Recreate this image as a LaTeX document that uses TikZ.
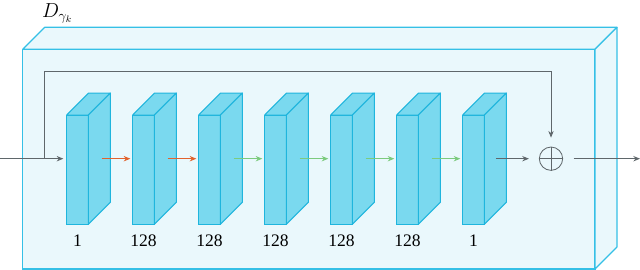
\documentclass[tikz,border=0pt]{standalone}
\usepackage{fontspec}
\setmainfont{Liberation Serif}
\usetikzlibrary{arrows.meta,positioning,calc}

\definecolor{framefill}{HTML}{EAF8FC}
\definecolor{frameline}{HTML}{35C0E6}
\definecolor{layerfill}{HTML}{7AD9EF}
\definecolor{layerline}{HTML}{1FB5DD}
\definecolor{flowgray}{HTML}{5F676B}
\definecolor{flowred}{HTML}{E2632D}
\definecolor{flowgreen}{HTML}{7CCB7E}

\begin{document}
\begin{tikzpicture}[
  x=0.3mm, y=-0.3mm,
  frame/.style={
    draw=frameline,
    fill=framefill,
    line width=1pt,
    inner sep=0pt,
    outer sep=0pt,
    minimum width=171.69mm,
    minimum height=65.91mm
  },
  frameface/.style={
    draw=frameline,
    fill=framefill,
    line width=1pt,
    line join=round
  },
  layer/.style={
    draw=layerline,
    fill=layerfill,
    line width=0.9pt,
    inner sep=0pt,
    outer sep=0pt,
    minimum width=6.48mm,
    minimum height=32.8mm
  },
  layerface/.style={
    draw=layerline,
    fill=layerfill,
    line width=0.9pt,
    line join=round
  },
  grayarrow/.style={
    -{Stealth[length=2mm,width=1.6mm]},
    draw=flowgray,
    line width=1pt
  },
  redarrow/.style={
    -{Stealth[length=2mm,width=1.6mm]},
    draw=flowred,
    line width=1.1pt
  },
  greenarrow/.style={
    -{Stealth[length=2mm,width=1.6mm]},
    draw=flowgreen,
    line width=1.1pt
  },
  sumnode/.style={
    circle,
    draw=flowgray,
    line width=0.7pt,
    minimum size=7mm,
    inner sep=0pt
  },
  numlabel/.style={
    font=\fontsize{15}{18}\selectfont,
    inner sep=0pt
  }
]
\useasboundingbox (0,0) rectangle (640,270);

% Outer block
\node[frame] (frame) at (308.85,159.15) {};
\filldraw[frameface] (frame.north west) -- ++(22,-22) -- ++(572.3,0)
  -- (frame.north east) -- cycle;
\filldraw[frameface] (frame.north east) -- ++(22,-22) -- ++(0,219.7)
  -- (frame.south east) -- cycle;

\node[anchor=base west, inner sep=0pt, font=\fontsize{17}{20}\selectfont]
  (title) at (42,17.3) {$D_{\gamma_k}$};

% Layers
\foreach \i/\ch in {1/1,2/128,3/128,4/128,5/128,6/128,7/1} {
  \node[layer] (b\i) at ({77.5+66*(\i-1)},169.7) {};
  \filldraw[layerface] (b\i.north west) -- ++(22,-22) -- ++(21.6,0)
    -- (b\i.north east) -- cycle;
  \filldraw[layerface] (b\i.north east) -- ++(22,-22) -- ++(0,109.3)
    -- (b\i.south east) -- cycle;
  \node[numlabel, below=3.2mm of b\i] (n\i) {\ch};
}

% Sum and flow points
\node[sumnode] (sum) at (551,158.7) {};
\draw[flowgray, line width=0.7pt] (sum.north) -- (sum.south);
\draw[flowgray, line width=0.7pt] (sum.west) -- (sum.east);

\coordinate (in) at (0,158.7);
\coordinate (split) at (44.3,158.7);
\coordinate (skiptop) at (44.3,71);
\coordinate (out) at (640,158.7);

% Main path
\draw[grayarrow, shorten >=1mm] (in) -- (b1.west |- in);
\draw[redarrow, shorten <=4mm, shorten >=0.7mm] (b1.east |- in) -- (b2.west |- in);
\draw[redarrow, shorten <=4mm, shorten >=0.7mm] (b2.east |- in) -- (b3.west |- in);
\foreach \from/\to in {3/4,4/5,5/6,6/7}
  \draw[greenarrow, shorten <=4mm, shorten >=0.7mm] (b\from.east |- in) -- (b\to.west |- in);
\draw[grayarrow, shorten <=3.5mm, shorten >=3mm] (b7.east |- in) -- (sum.west);
\draw[grayarrow, shorten <=3.2mm] (sum.east) -- (out);

% Skip connection
\draw[grayarrow, line width=0.7pt, shorten >=2.7mm] (split) -- (skiptop) -| (sum.north);

\end{tikzpicture}
\end{document}
